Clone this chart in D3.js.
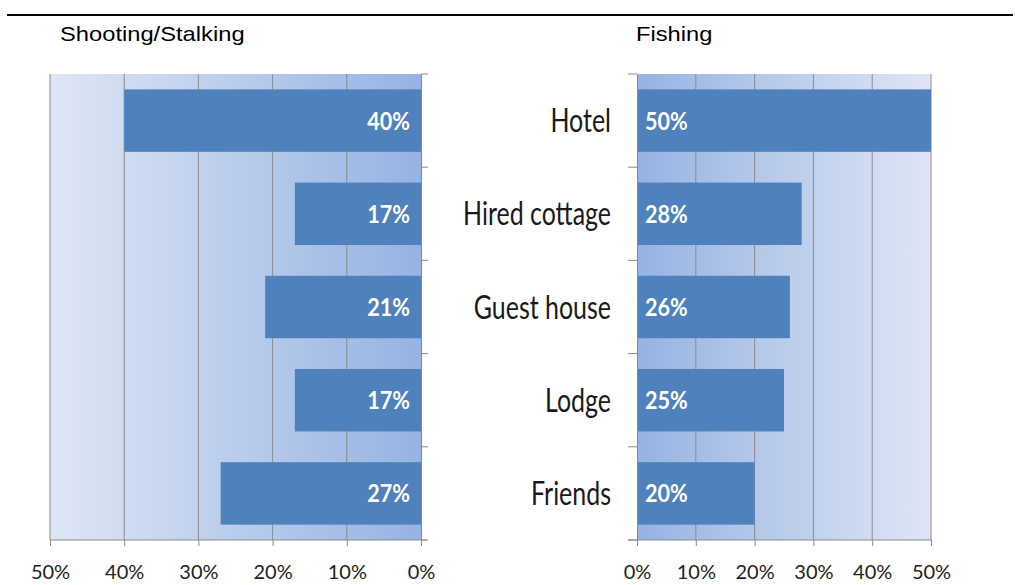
<!DOCTYPE html>
<html>
<head>
<meta charset="utf-8">
<script src="https://cdn.jsdelivr.net/npm/d3@7"></script>
<style>
  body { margin: 0; background: #fff; }
  svg { display: block; }
</style>
</head>
<body>
<div id="chart"></div>
<script>
// data
var categories = ["Hotel", "Hired cottage", "Guest house", "Lodge", "Friends"];
var shootingValues = [40, 17, 21, 17, 27];
var fishingValues = [50, 28, 26, 25, 20];
var tickValues = [0, 10, 20, 30, 40, 50];
var leftTitle = "Shooting/Stalking";
var rightTitle = "Fishing";

var W = 1015, H = 585;
var plotTop = 74, plotBottom = 540;
var axisColor = "#8a8a8a";
var barColor = "#4f81bd";
var lightBg = "#dfe6f5", darkBg = "#95b3e2";
var labelFont = "Lato, 'Open Sans', sans-serif";

var svg = d3.select("#chart").append("svg")
  .attr("width", W)
  .attr("height", H);

// the rule across the top
svg.append("line")
  .attr("x1", 7).attr("x2", 1013)
  .attr("y1", 15).attr("y2", 15)
  .attr("stroke", "#000").attr("stroke-width", 2);

var defs = svg.append("defs");
function grad(id, from, to) {
  var g = defs.append("linearGradient").attr("id", id)
    .attr("x1", "0%").attr("x2", "100%").attr("y1", "0%").attr("y2", "0%");
  g.append("stop").attr("offset", "0%").attr("stop-color", from);
  g.append("stop").attr("offset", "100%").attr("stop-color", to);
}
grad("bgLeft", lightBg, darkBg);
grad("bgRight", darkBg, lightBg);

// band scales: one for the boundaries, one for the bars
var yBand = d3.scaleBand().domain(categories).range([plotTop, plotBottom]);
var yBar = d3.scaleBand().domain(categories).range([plotTop, plotBottom])
  .paddingInner(0.33).paddingOuter(0.165);

function panel(opts) {
  var x = d3.scaleLinear().domain([0, 50]).range(opts.range);
  var x0 = x(0), x50 = x(50);
  var lo = Math.min(x0, x50), hi = Math.max(x0, x50);
  var g = svg.append("g");

  g.append("rect")
    .attr("x", lo).attr("y", plotTop)
    .attr("width", hi - lo).attr("height", plotBottom - plotTop)
    .attr("fill", "url(#" + opts.grad + ")");

  // gridlines
  g.selectAll(".grid").data(tickValues.filter(function(d) { return d > 0; }))
    .enter().append("line")
    .attr("x1", function(d) { return x(d); })
    .attr("x2", function(d) { return x(d); })
    .attr("y1", plotTop).attr("y2", plotBottom)
    .attr("stroke", "#8c8c8c").attr("stroke-width", 1);

  // bars
  g.selectAll(".bar").data(opts.values)
    .enter().append("rect")
    .attr("x", function(d) { return Math.min(x(0), x(d)); })
    .attr("width", function(d) { return Math.abs(x(d) - x(0)); })
    .attr("y", function(d, i) { return yBar(categories[i]); })
    .attr("height", yBar.bandwidth())
    .attr("fill", barColor);

  // value labels
  g.selectAll(".val").data(opts.values)
    .enter().append("text")
    .attr("transform", function(d, i) {
      var cy = yBar(categories[i]) + yBar.bandwidth() / 2;
      return "translate(" + (x0 + opts.labelOffset) + "," + (cy + 9) + ") scale(0.9,1)";
    })
    .attr("text-anchor", opts.labelAnchor)
    .attr("fill", "#fff")
    .attr("font-family", labelFont)
    .attr("font-weight", 700)
    .attr("font-size", 24)
    .text(function(d) { return d + "%"; });

  // bottom axis
  var axis = d3.axisBottom(x).tickValues(tickValues)
    .tickFormat(function(d) { return d + "%"; })
    .tickSize(6).tickPadding(19).tickSizeOuter(0);
  var ax = g.append("g")
    .attr("transform", "translate(0," + plotBottom + ")")
    .call(axis);
  ax.select(".domain").remove();
  ax.append("line")
    .attr("x1", opts.axisExt[0]).attr("x2", opts.axisExt[1])
    .attr("stroke", axisColor);
  ax.selectAll(".tick line").attr("stroke", axisColor);
  ax.selectAll(".tick text")
    .attr("font-family", labelFont)
    .attr("font-size", 20)
    .attr("fill", "#222");

  // category axis at the 0% side
  var vAxis = opts.side === "right" ? d3.axisRight(yBand) : d3.axisLeft(yBand);
  var va = g.append("g")
    .attr("transform", "translate(" + x0 + ",0)")
    .call(vAxis.tickValues([]).tickSizeOuter(0));
  va.select(".domain").attr("stroke", axisColor);
  var bounds = categories.map(function(c) { return yBand(c); }).concat([plotBottom]);
  va.selectAll(".bound").data(bounds)
    .enter().append("line")
    .attr("x1", 0).attr("x2", opts.side === "right" ? 7 : -9)
    .attr("y1", function(d) { return d; }).attr("y2", function(d) { return d; })
    .attr("stroke", axisColor);

  svg.append("text")
    .attr("transform", "translate(" + opts.titleX + ",41) scale(1.13,1)")
    .attr("font-family", "'Liberation Sans', Arial, sans-serif")
    .attr("font-size", 21)
    .attr("fill", "#000")
    .text(opts.title);
}

panel({
  range: [421, 50], grad: "bgLeft", values: shootingValues,
  labelOffset: -11, labelAnchor: "end", axisExt: [50, 427],
  side: "right", title: leftTitle, titleX: 60
});

panel({
  range: [637, 931], grad: "bgRight", values: fishingValues,
  labelOffset: 8, labelAnchor: "start", axisExt: [628, 931],
  side: "left", title: rightTitle, titleX: 636
});

// category names between the panels
svg.append("g").selectAll("text").data(categories)
  .enter().append("text")
  .attr("transform", function(d) {
    var cy = yBand(d) + yBand.bandwidth() / 2;
    return "translate(611," + (cy + 11.5) + ") scale(0.78,1)";
  })
  .attr("text-anchor", "end")
  .attr("font-family", labelFont)
  .attr("font-size", 32)
  .attr("fill", "#1a1a1a")
  .text(function(d) { return d; });
</script>
</body>
</html>
